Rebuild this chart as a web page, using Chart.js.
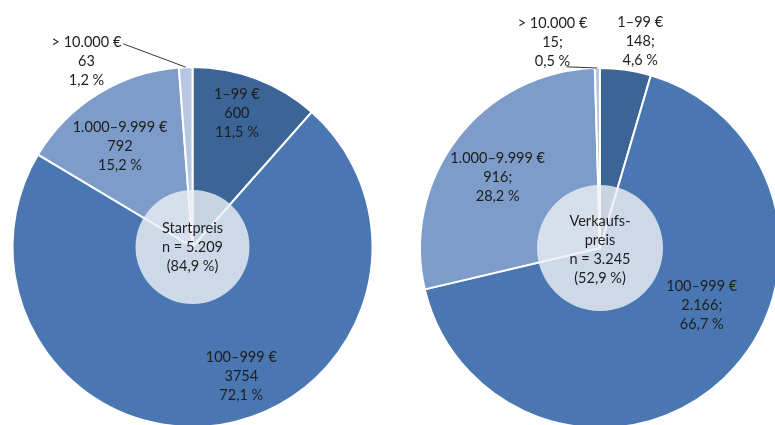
<!DOCTYPE html>
<html>
<head>
<meta charset="utf-8">
<script src="https://cdn.jsdelivr.net/npm/chart.js@4/dist/chart.umd.min.js"></script>
<style>
  html, body { margin: 0; padding: 0; background: #ffffff; overflow: hidden; }
  #stage { position: relative; width: 775px; height: 425px; overflow: hidden; background: #fff; }
  .box { position: absolute; top: 0; }
</style>
</head>
<body>
<div id="stage">
  <div class="box" style="left:0px;width:387px;height:440px;"><canvas id="c1" width="387" height="440"></canvas></div>
  <div class="box" style="left:387px;width:400px;height:440px;"><canvas id="c2" width="400" height="440"></canvas></div>
</div>
<script>
// ---- Data ----
const categories = ['1–99 €', '100–999 €', '1.000–9.999 €', '> 10.000 €'];

const startValues = [600, 3754, 792, 63];
const startCountLabels = ['600', '3754', '792', '63'];
const startPercentLabels = ['11,5 %', '72,1 %', '15,2 %', '1,2 %'];
const startCenterLines = ['Startpreis', 'n = 5.209', '(84,9 %)'];

const saleValues = [148, 2166, 916, 15];
const saleCountLabels = ['148;', '2.166;', '916;', '15;'];
const salePercentLabels = ['4,6 %', '66,7 %', '28,2 %', '0,5 %'];
const saleCenterLines = ['Verkaufs-', 'preis', 'n = 3.245', '(52,9 %)'];

const colors = ['#3b6497', '#4a77b2', '#7d9cc9', '#b8c7e0'];

const FONT = '14.5px Lato, "Open Sans", sans-serif';
const LINE_H = 19;
const TEXT_COLOR = '#1e1e1e';

// Label placement plugin: labels anchored on each arc's mid-angle
const labelPlugin = {
  id: 'sliceLabels',
  afterDatasetsDraw(chart, args, opts) {
    const ctx = chart.ctx;
    const arcs = chart.getDatasetMeta(0).data;
    const cx = arcs[0].x, cy = arcs[0].y, R = arcs[0].outerRadius;

    // center overlay circle
    ctx.save();
    ctx.beginPath();
    ctx.arc(cx, cy, opts.holeRadius, 0, Math.PI * 2);
    ctx.fillStyle = 'rgba(238,240,246,0.80)';
    ctx.fill();
    ctx.restore();

    ctx.save();
    ctx.font = FONT;
    ctx.fillStyle = TEXT_COLOR;
    ctx.textAlign = 'center';
    ctx.textBaseline = 'middle';

    // center text
    const cl = opts.centerLines;
    const c0 = cy + opts.centerDy - (cl.length - 1) * LINE_H / 2;
    cl.forEach((t, k) => ctx.fillText(t, cx, c0 + k * LINE_H));

    // slice labels
    opts.place.forEach((p, i) => {
      const a = arcs[i];
      const mid = (a.startAngle + a.endAngle) / 2 + p.dA * Math.PI / 180;
      const x = cx + Math.cos(mid) * R * p.rf;
      const y = cy + Math.sin(mid) * R * p.rf;
      const lines = [categories[i], opts.counts[i], opts.percents[i]];
      lines.forEach((t, k) => ctx.fillText(t, x, y + (k - 1) * LINE_H));
      if (p.leader) {
        const am = (a.startAngle + a.endAngle) / 2;
        const ex = cx + Math.cos(am) * R, ey = cy + Math.sin(am) * R;
        ctx.beginPath();
        ctx.moveTo(x + p.leader[0], y + p.leader[1]);
        ctx.lineTo(ex, ey);
        ctx.strokeStyle = '#333';
        ctx.lineWidth = 1;
        ctx.stroke();
      }
    });
    ctx.restore();
  }
};

function makePie(id, values, padding, radius, pluginOpts) {
  return new Chart(document.getElementById(id), {
    type: 'pie',
    data: {
      labels: categories,
      datasets: [{
        data: values,
        backgroundColor: colors,
        borderColor: '#ffffff',
        borderWidth: 2
      }]
    },
    options: {
      responsive: false,
      animation: false,
      radius: radius,
      layout: { padding: padding },
      plugins: {
        legend: { display: false },
        tooltip: { enabled: false },
        sliceLabels: pluginOpts
      }
    },
    plugins: [labelPlugin]
  });
}

makePie('c1', startValues, { left: 10, right: 12, top: 65, bottom: 11 }, 180, {
  holeRadius: 57,
  centerDy: 0,
  centerLines: startCenterLines,
  counts: startCountLabels,
  percents: startPercentLabels,
  place: [
    { rf: 0.78, dA: -2.3 },
    { rf: 0.77, dA: -11.8 },
    { rf: 0.69, dA: -4 },
    { rf: 1.19, dA: -27.5, leader: [37, -17] }
  ]
});

makePie('c2', saleValues, { left: 31, right: 5, top: 66, bottom: 10 }, 180, {
  holeRadius: 63,
  centerDy: 2,
  centerLines: saleCenterLines,
  counts: saleCountLabels,
  percents: salePercentLabels,
  place: [
    { rf: 1.17, dA: 2.8 },
    { rf: 0.65, dA: -17 },
    { rf: 0.69, dA: -3 },
    { rf: 1.17, dA: -12.2, leader: [14, 24] }
  ]
});
</script>
</body>
</html>
